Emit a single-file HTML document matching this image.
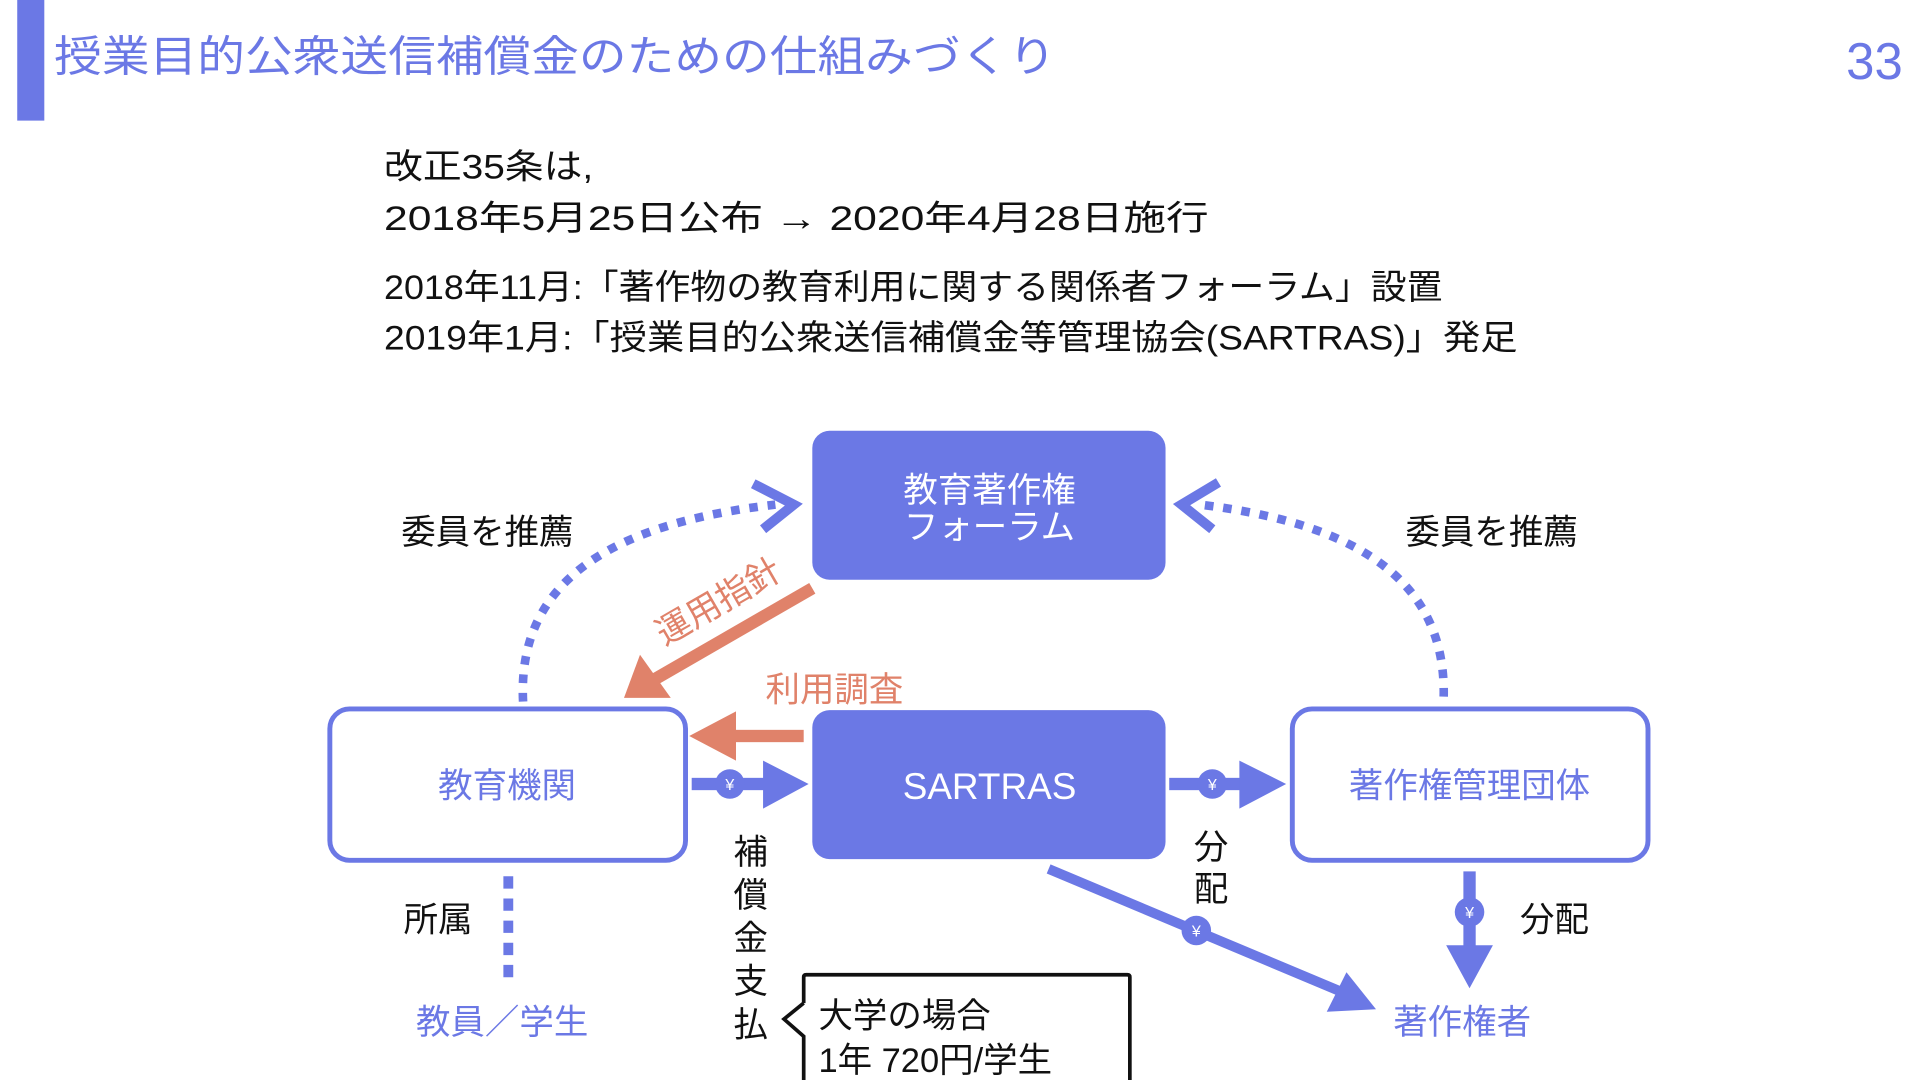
<!DOCTYPE html>
<html><head><meta charset="utf-8"><style>
html,body{margin:0;padding:0;background:#fff;width:1920px;height:1080px;overflow:hidden}
svg{display:block}
text{font-family:"Liberation Sans","Noto Sans CJK JP",sans-serif}
</style></head><body>
<svg width="1920" height="1080" viewBox="0 0 1560 877.5" preserveAspectRatio="none" xmlns="http://www.w3.org/2000/svg">
<defs>
<g id="yen"><circle r="12" fill="#6b78e5"/><text y="5" text-anchor="middle" font-size="13" fill="#fff">¥</text></g>
</defs>
<rect x="14" y="0" width="22" height="98" fill="#6b78e5"/>
<text x="44" y="58" font-size="35" fill="#6b78e5" textLength="814" lengthAdjust="spacingAndGlyphs">授業目的公衆送信補償金のための仕組みづくり</text>
<text x="1500" y="64" font-size="42" fill="#6b78e5" textLength="46" lengthAdjust="spacingAndGlyphs">33</text>

<g font-size="28" fill="#111">
<text x="312" y="145" textLength="170" lengthAdjust="spacingAndGlyphs">改正35条は,</text>
<text x="312" y="187" textLength="670" lengthAdjust="spacingAndGlyphs">2018年5月25日公布 → 2020年4月28日施行</text>
<text x="312" y="243" textLength="860" lengthAdjust="spacingAndGlyphs">2018年11月:「著作物の教育利用に関する関係者フォーラム」設置</text>
<text x="312" y="284" textLength="921" lengthAdjust="spacingAndGlyphs">2019年1月:「授業目的公衆送信補償金等管理協会(SARTRAS)」発足</text>
</g>

<!-- dotted arcs -->
<path d="M425 570 C 420 470, 500 425, 630 410" fill="none" stroke="#6b78e5" stroke-width="7" stroke-dasharray="7 8"/>
<path d="M612 393 L645 410 L620 430" fill="none" stroke="#6b78e5" stroke-width="8" stroke-linejoin="miter"/>
<path d="M1173 566 C 1175 470, 1100 425, 975 410" fill="none" stroke="#6b78e5" stroke-width="7" stroke-dasharray="7 8"/>
<path d="M990 392 L960 410 L985 430" fill="none" stroke="#6b78e5" stroke-width="8"/>
<text x="326" y="442" font-size="28" fill="#111">委員を推薦</text>
<text x="1142" y="442" font-size="28" fill="#111">委員を推薦</text>

<!-- boxes -->
<rect x="660" y="350" width="287" height="121" rx="14" fill="#6b78e5"/>
<text x="804" y="408" font-size="28" fill="#fff" text-anchor="middle">教育著作権</text>
<text x="804" y="438" font-size="28" fill="#fff" text-anchor="middle">フォーラム</text>
<rect x="660" y="577" width="287" height="121" rx="14" fill="#6b78e5"/>
<text x="804" y="649" font-size="30" fill="#fff" text-anchor="middle">SARTRAS</text>
<rect x="268" y="576" width="289" height="123" rx="16" fill="#fff" stroke="#6b78e5" stroke-width="4"/>
<text x="412" y="648" font-size="28" fill="#6b78e5" text-anchor="middle">教育機関</text>
<rect x="1050" y="576" width="289" height="123" rx="16" fill="#fff" stroke="#6b78e5" stroke-width="4"/>
<text x="1194" y="648" font-size="28" fill="#6b78e5" text-anchor="middle">著作権管理団体</text>

<!-- orange arrows -->
<line x1="660" y1="478" x2="530" y2="553" stroke="#e0826a" stroke-width="10"/>
<polygon points="507,567 520,532 545,567" fill="#e0826a"/>
<text transform="translate(540,525) rotate(-30)" font-size="28" fill="#e0826a">運用指針</text>
<text x="622" y="570" font-size="28" fill="#e0826a">利用調査</text>
<rect x="590" y="593" width="63" height="10" fill="#e0826a"/>
<polygon points="560,598 598,578 598,618" fill="#e0826a"/>

<!-- yen arrows -->
<rect x="562" y="632" width="62" height="10" fill="#6b78e5"/>
<polygon points="620,618 657,637 620,657" fill="#6b78e5"/>
<use href="#yen" x="593" y="637"/>
<rect x="950" y="632" width="60" height="10" fill="#6b78e5"/>
<polygon points="1007,618 1045,637 1007,657" fill="#6b78e5"/>
<use href="#yen" x="985" y="637"/>

<line x1="852" y1="706" x2="1095" y2="808" stroke="#6b78e5" stroke-width="8"/>
<polygon points="1118,820 1078,822 1094,790" fill="#6b78e5"/>
<use href="#yen" x="972" y="756"/>

<rect x="1189" y="708" width="10" height="62" fill="#6b78e5"/>
<polygon points="1175,768 1213,768 1194,803" fill="#6b78e5"/>
<use href="#yen" x="1194" y="741"/>

<g font-size="28" fill="#111" text-anchor="middle">
<text x="610" y="702">補</text><text x="610" y="737">償</text><text x="610" y="772">金</text><text x="610" y="807">支</text><text x="610" y="842">払</text>
<text x="984" y="698">分</text><text x="984" y="732">配</text>
</g>
<text x="1235" y="757" font-size="28" fill="#111">分配</text>
<text x="328" y="757" font-size="28" fill="#111">所属</text>
<line x1="413" y1="712" x2="413" y2="800" stroke="#6b78e5" stroke-width="8" stroke-dasharray="10 8"/>
<text x="338" y="840" font-size="28" fill="#6b78e5">教員／学生</text>
<text x="1132" y="840" font-size="28" fill="#6b78e5">著作権者</text>

<!-- callout -->
<path d="M653 815 L653 794 Q653 792 655 792 L916 792 Q918 792 918 794 L918 880 M653 880 L653 842 L637 828 L653 815" fill="#fff" stroke="#111" stroke-width="3"/>
<text x="665" y="835" font-size="28" fill="#111">大学の場合</text>
<text x="665" y="871" font-size="28" fill="#111">1年 720円/学生</text>
</svg>
</body></html>
